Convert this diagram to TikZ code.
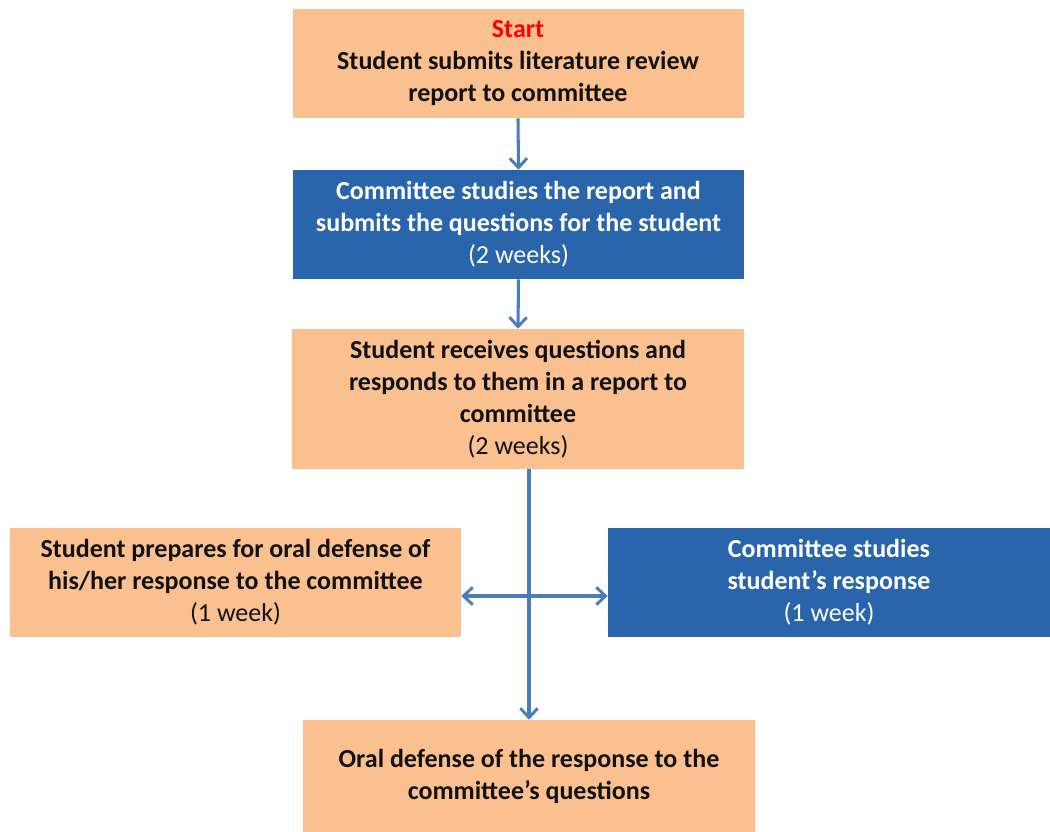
\documentclass[tikz,border=0pt]{standalone}
\usepackage{fontspec}
\setmainfont{Carlito}
\usetikzlibrary{arrows.meta}
\definecolor{peach}{HTML}{FAC090}
\definecolor{navy}{HTML}{2A64AA}
\definecolor{arr}{HTML}{4A7EBB}
\definecolor{ink}{HTML}{111111}
\begin{document}
\begin{tikzpicture}[x=0.75pt,y=-0.75pt,
  >={Straight Barb[length=7pt,width=13pt,line width=2.2pt]},
  box/.style={rectangle, inner sep=0pt, align=center,
    font=\fontsize{19.5}{24}\selectfont\bfseries},
  peachbox/.style={box, fill=peach, text=ink},
  bluebox/.style={box, fill=navy, text=white},
  conn/.style={draw=arr, line width=2.3pt, ->},
  dconn/.style={draw=arr, line width=2.3pt, <->}]
\useasboundingbox (0,0) rectangle (1050,832);

\node[peachbox, minimum width=451*0.75pt, minimum height=109*0.75pt] (b1) at (518,63.5)
  {{\color{red}Start}\\Student submits literature review\\report to committee};
\node[bluebox, minimum width=451*0.75pt, minimum height=109*0.75pt] (b2) at (518.5,224.5)
  {Committee studies the report and\\submits the questions for the student\\{\mdseries(2 weeks)}};
\node[peachbox, minimum width=452*0.75pt, minimum height=140*0.75pt] (b3) at (518,399)
  {Student receives questions and\\responds to them in a report to\\committee\\{\mdseries(2 weeks)}};
\node[peachbox, minimum width=451*0.75pt, minimum height=109*0.75pt] (b4) at (235.5,582.5)
  {Student prepares for oral defense of\\his/her response to the committee\\{\mdseries(1 week)}};
\node[bluebox, minimum width=442*0.75pt, minimum height=109*0.75pt] (b5) at (829,582.5)
  {Committee studies\\student’s response\\{\mdseries(1 week)}};
\node[peachbox, minimum width=452*0.75pt, minimum height=112*0.75pt] (b6) at (529,776)
  {Oral defense of the response to the\\committee’s questions};

\coordinate (cross) at (529,596);
\draw[conn] (b1.south) -- (b2.north);
\draw[conn] (b2.south) -- (b3.north);
\draw[conn] (b3.south -| b6.north) -- (b6.north);
\draw[dconn] (b4.east |- cross) -- (b5.west |- cross);
\end{tikzpicture}
\end{document}
